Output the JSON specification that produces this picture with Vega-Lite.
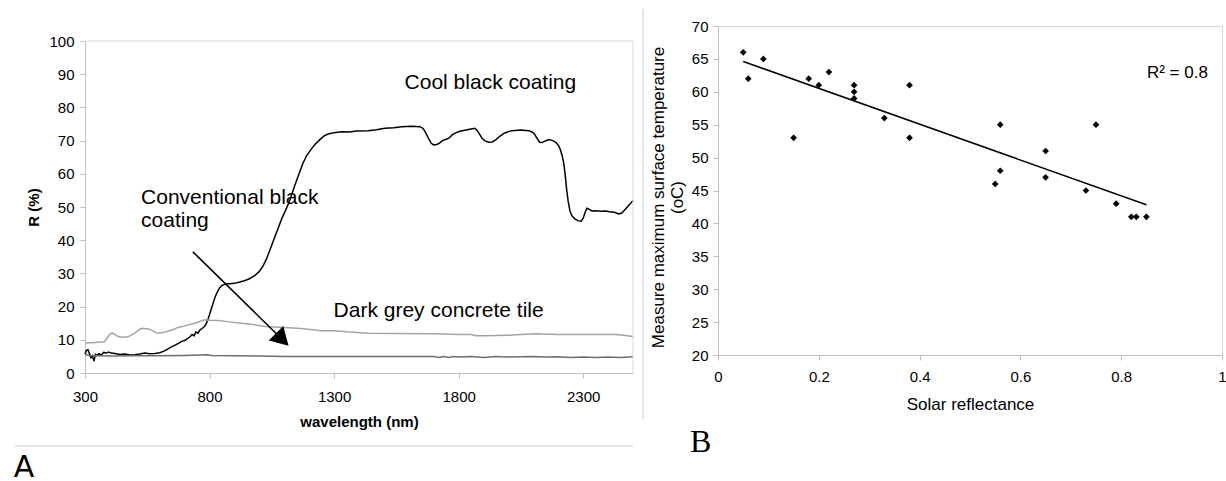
{
  "$schema": "https://vega.github.io/schema/vega-lite/v6.json",
  "padding": {"left": 13, "top": 8, "right": 0, "bottom": 0},
  "autosize": {"type": "pad"},
  "background": "white",
  "spacing": 6,
  "config": {
    "font": "Liberation Sans",
    "view": {"stroke": null},
    "axis": {"grid": false, "domainColor": "#bfbfbf", "tickColor": "#bfbfbf", "labelColor": "#000000", "titleColor": "#000000", "tickSize": 5, "labelFont": "Liberation Sans", "titleFont": "Liberation Sans", "labelFlush": false, "labelOverlap": false}
  },
  "datasets": {
    "spectra": [
      {"s":"cool","nm":300,"R":5.7},{"s":"cool","nm":306,"R":6.8},{"s":"cool","nm":312,"R":7.0},{"s":"cool","nm":318,"R":5.8},{"s":"cool","nm":324,"R":4.6},{"s":"cool","nm":330,"R":5.2},{"s":"cool","nm":336,"R":3.6},{"s":"cool","nm":342,"R":5.6},{"s":"cool","nm":348,"R":5.3},{"s":"cool","nm":356,"R":5.8},{"s":"cool","nm":365,"R":5.4},{"s":"cool","nm":375,"R":6.2},{"s":"cool","nm":385,"R":6.0},{"s":"cool","nm":395,"R":6.3},{"s":"cool","nm":405,"R":6.0},{"s":"cool","nm":420,"R":5.9},{"s":"cool","nm":440,"R":5.6},{"s":"cool","nm":460,"R":5.7},{"s":"cool","nm":480,"R":5.4},{"s":"cool","nm":500,"R":5.5},{"s":"cool","nm":520,"R":5.7},{"s":"cool","nm":540,"R":6.0},{"s":"cool","nm":560,"R":5.8},{"s":"cool","nm":580,"R":5.9},{"s":"cool","nm":600,"R":6.1},{"s":"cool","nm":615,"R":6.5},{"s":"cool","nm":630,"R":7.1},{"s":"cool","nm":645,"R":7.8},{"s":"cool","nm":660,"R":8.3},{"s":"cool","nm":675,"R":8.9},{"s":"cool","nm":690,"R":9.6},{"s":"cool","nm":700,"R":9.8},{"s":"cool","nm":713,"R":10.4},{"s":"cool","nm":722,"R":10.9},{"s":"cool","nm":730,"R":11.6},{"s":"cool","nm":738,"R":11.2},{"s":"cool","nm":745,"R":12.4},{"s":"cool","nm":753,"R":12.0},{"s":"cool","nm":762,"R":13.0},{"s":"cool","nm":770,"R":13.4},{"s":"cool","nm":778,"R":13.9},{"s":"cool","nm":785,"R":14.6},{"s":"cool","nm":793,"R":16.0},{"s":"cool","nm":800,"R":17.6},{"s":"cool","nm":807,"R":19.3},{"s":"cool","nm":815,"R":21.2},{"s":"cool","nm":822,"R":22.8},{"s":"cool","nm":830,"R":24.2},{"s":"cool","nm":840,"R":25.6},{"s":"cool","nm":850,"R":26.4},{"s":"cool","nm":865,"R":26.8},{"s":"cool","nm":880,"R":26.9},{"s":"cool","nm":900,"R":27.0},{"s":"cool","nm":921,"R":27.4},{"s":"cool","nm":940,"R":27.8},{"s":"cool","nm":960,"R":28.4},{"s":"cool","nm":981,"R":29.3},{"s":"cool","nm":1000,"R":30.6},{"s":"cool","nm":1015,"R":32.3},{"s":"cool","nm":1030,"R":34.6},{"s":"cool","nm":1045,"R":37.6},{"s":"cool","nm":1060,"R":40.6},{"s":"cool","nm":1075,"R":43.5},{"s":"cool","nm":1090,"R":46.5},{"s":"cool","nm":1105,"R":49.0},{"s":"cool","nm":1120,"R":51.6},{"s":"cool","nm":1140,"R":56.0},{"s":"cool","nm":1160,"R":60.2},{"s":"cool","nm":1175,"R":63.2},{"s":"cool","nm":1190,"R":65.5},{"s":"cool","nm":1209,"R":67.5},{"s":"cool","nm":1225,"R":69.0},{"s":"cool","nm":1243,"R":70.3},{"s":"cool","nm":1260,"R":71.4},{"s":"cool","nm":1276,"R":72.0},{"s":"cool","nm":1300,"R":72.4},{"s":"cool","nm":1330,"R":72.7},{"s":"cool","nm":1360,"R":72.6},{"s":"cool","nm":1390,"R":72.9},{"s":"cool","nm":1437,"R":73.0},{"s":"cool","nm":1470,"R":73.3},{"s":"cool","nm":1504,"R":73.7},{"s":"cool","nm":1540,"R":73.9},{"s":"cool","nm":1571,"R":74.2},{"s":"cool","nm":1610,"R":74.3},{"s":"cool","nm":1645,"R":74.2},{"s":"cool","nm":1658,"R":73.6},{"s":"cool","nm":1668,"R":72.3},{"s":"cool","nm":1678,"R":70.8},{"s":"cool","nm":1690,"R":69.2},{"s":"cool","nm":1700,"R":68.7},{"s":"cool","nm":1712,"R":68.8},{"s":"cool","nm":1722,"R":69.2},{"s":"cool","nm":1735,"R":70.0},{"s":"cool","nm":1750,"R":70.4},{"s":"cool","nm":1762,"R":70.8},{"s":"cool","nm":1775,"R":71.8},{"s":"cool","nm":1790,"R":72.4},{"s":"cool","nm":1805,"R":72.8},{"s":"cool","nm":1830,"R":73.2},{"s":"cool","nm":1850,"R":73.5},{"s":"cool","nm":1865,"R":73.7},{"s":"cool","nm":1875,"R":73.0},{"s":"cool","nm":1885,"R":71.8},{"s":"cool","nm":1895,"R":70.6},{"s":"cool","nm":1906,"R":69.9},{"s":"cool","nm":1920,"R":69.5},{"s":"cool","nm":1935,"R":69.6},{"s":"cool","nm":1950,"R":70.3},{"s":"cool","nm":1965,"R":71.3},{"s":"cool","nm":1980,"R":72.1},{"s":"cool","nm":1995,"R":72.6},{"s":"cool","nm":2014,"R":73.0},{"s":"cool","nm":2050,"R":73.2},{"s":"cool","nm":2081,"R":73.0},{"s":"cool","nm":2095,"R":72.6},{"s":"cool","nm":2105,"R":71.9},{"s":"cool","nm":2115,"R":70.7},{"s":"cool","nm":2125,"R":69.5},{"s":"cool","nm":2135,"R":69.4},{"s":"cool","nm":2148,"R":69.9},{"s":"cool","nm":2162,"R":70.3},{"s":"cool","nm":2178,"R":70.0},{"s":"cool","nm":2190,"R":69.5},{"s":"cool","nm":2200,"R":68.6},{"s":"cool","nm":2208,"R":67.4},{"s":"cool","nm":2215,"R":65.6},{"s":"cool","nm":2222,"R":63.2},{"s":"cool","nm":2228,"R":59.5},{"s":"cool","nm":2234,"R":55.0},{"s":"cool","nm":2240,"R":51.6},{"s":"cool","nm":2247,"R":48.8},{"s":"cool","nm":2255,"R":47.3},{"s":"cool","nm":2265,"R":46.5},{"s":"cool","nm":2278,"R":45.9},{"s":"cool","nm":2292,"R":45.7},{"s":"cool","nm":2300,"R":46.6},{"s":"cool","nm":2308,"R":48.4},{"s":"cool","nm":2315,"R":49.6},{"s":"cool","nm":2325,"R":49.3},{"s":"cool","nm":2335,"R":48.8},{"s":"cool","nm":2350,"R":48.9},{"s":"cool","nm":2370,"R":48.7},{"s":"cool","nm":2390,"R":48.8},{"s":"cool","nm":2405,"R":48.6},{"s":"cool","nm":2425,"R":48.4},{"s":"cool","nm":2443,"R":47.9},{"s":"cool","nm":2455,"R":48.2},{"s":"cool","nm":2470,"R":49.4},{"s":"cool","nm":2485,"R":50.7},{"s":"cool","nm":2500,"R":51.9},
      {"s":"concrete","nm":300,"R":9.0},{"s":"concrete","nm":340,"R":9.2},{"s":"concrete","nm":378,"R":9.4},{"s":"concrete","nm":390,"R":10.6},{"s":"concrete","nm":400,"R":11.8},{"s":"concrete","nm":410,"R":12.0},{"s":"concrete","nm":420,"R":11.6},{"s":"concrete","nm":432,"R":11.0},{"s":"concrete","nm":450,"R":10.8},{"s":"concrete","nm":472,"R":10.9},{"s":"concrete","nm":500,"R":12.0},{"s":"concrete","nm":520,"R":13.2},{"s":"concrete","nm":532,"R":13.5},{"s":"concrete","nm":559,"R":13.2},{"s":"concrete","nm":580,"R":12.4},{"s":"concrete","nm":592,"R":12.0},{"s":"concrete","nm":619,"R":12.3},{"s":"concrete","nm":650,"R":13.0},{"s":"concrete","nm":673,"R":13.7},{"s":"concrete","nm":700,"R":14.2},{"s":"concrete","nm":740,"R":15.0},{"s":"concrete","nm":780,"R":16.0},{"s":"concrete","nm":800,"R":15.9},{"s":"concrete","nm":834,"R":15.8},{"s":"concrete","nm":880,"R":15.4},{"s":"concrete","nm":928,"R":15.0},{"s":"concrete","nm":975,"R":14.6},{"s":"concrete","nm":1021,"R":14.0},{"s":"concrete","nm":1100,"R":13.7},{"s":"concrete","nm":1169,"R":13.4},{"s":"concrete","nm":1249,"R":12.7},{"s":"concrete","nm":1303,"R":12.7},{"s":"concrete","nm":1350,"R":12.4},{"s":"concrete","nm":1437,"R":12.0},{"s":"concrete","nm":1550,"R":11.9},{"s":"concrete","nm":1705,"R":11.8},{"s":"concrete","nm":1800,"R":11.6},{"s":"concrete","nm":1850,"R":11.6},{"s":"concrete","nm":1870,"R":11.2},{"s":"concrete","nm":1906,"R":11.2},{"s":"concrete","nm":2000,"R":11.4},{"s":"concrete","nm":2108,"R":11.8},{"s":"concrete","nm":2200,"R":11.6},{"s":"concrete","nm":2300,"R":11.6},{"s":"concrete","nm":2430,"R":11.6},{"s":"concrete","nm":2470,"R":11.3},{"s":"concrete","nm":2500,"R":11.0},
      {"s":"conventional","nm":300,"R":5.6},{"s":"conventional","nm":320,"R":5.2},{"s":"conventional","nm":350,"R":5.2},{"s":"conventional","nm":400,"R":5.1},{"s":"conventional","nm":500,"R":5.2},{"s":"conventional","nm":600,"R":5.2},{"s":"conventional","nm":700,"R":5.3},{"s":"conventional","nm":790,"R":5.5},{"s":"conventional","nm":810,"R":5.3},{"s":"conventional","nm":900,"R":5.2},{"s":"conventional","nm":1000,"R":5.1},{"s":"conventional","nm":1100,"R":5.0},{"s":"conventional","nm":1200,"R":5.0},{"s":"conventional","nm":1300,"R":5.0},{"s":"conventional","nm":1400,"R":5.0},{"s":"conventional","nm":1500,"R":5.0},{"s":"conventional","nm":1600,"R":5.0},{"s":"conventional","nm":1700,"R":5.0},{"s":"conventional","nm":1720,"R":4.7},{"s":"conventional","nm":1740,"R":5.0},{"s":"conventional","nm":1760,"R":4.7},{"s":"conventional","nm":1780,"R":5.0},{"s":"conventional","nm":1800,"R":4.8},{"s":"conventional","nm":1850,"R":5.0},{"s":"conventional","nm":1900,"R":4.7},{"s":"conventional","nm":1950,"R":5.0},{"s":"conventional","nm":2000,"R":4.8},{"s":"conventional","nm":2100,"R":5.0},{"s":"conventional","nm":2150,"R":4.8},{"s":"conventional","nm":2200,"R":4.9},{"s":"conventional","nm":2250,"R":4.7},{"s":"conventional","nm":2300,"R":4.8},{"s":"conventional","nm":2350,"R":4.7},{"s":"conventional","nm":2400,"R":4.8},{"s":"conventional","nm":2450,"R":4.7},{"s":"conventional","nm":2500,"R":4.9}
    ],
    "scatter": [
      {"refl":0.05,"temp":66},{"refl":0.06,"temp":62},{"refl":0.09,"temp":65},{"refl":0.15,"temp":53},{"refl":0.18,"temp":62},{"refl":0.2,"temp":61},{"refl":0.22,"temp":63},{"refl":0.27,"temp":61},{"refl":0.27,"temp":60},{"refl":0.27,"temp":59},{"refl":0.33,"temp":56},{"refl":0.38,"temp":61},{"refl":0.38,"temp":53},{"refl":0.55,"temp":46},{"refl":0.56,"temp":55},{"refl":0.56,"temp":48},{"refl":0.65,"temp":51},{"refl":0.65,"temp":47},{"refl":0.73,"temp":45},{"refl":0.75,"temp":55},{"refl":0.79,"temp":43},{"refl":0.82,"temp":41},{"refl":0.83,"temp":41},{"refl":0.85,"temp":41}
    ]
  },
  "hconcat": [
    {
      "width": 548,
      "height": 347,
      "layer": [
        {
          "data": {"name": "spectra"},
          "mark": {"type": "line", "strokeWidth": 1.5, "clip": false},
          "encoding": {
            "x": {"field": "nm", "type": "quantitative", "scale": {"domain": [300, 2500], "nice": false, "zero": false},
                  "axis": {"values": [300, 800, 1300, 1800, 2300], "tickCount": 10, "format": "d", "title": "wavelength (nm)", "titleFontWeight": "bold", "titleFontSize": 15, "labelFontSize": 15, "labelPadding": 11, "titlePadding": 10, "labelOverlap": false, "labelFlush": false}},
            "y": {"field": "R", "type": "quantitative", "scale": {"domain": [0, 100], "range": [347, 15], "nice": false},
                  "axis": {"values": [0, 10, 20, 30, 40, 50, 60, 70, 80, 90, 100], "tickCount": 20, "format": "d", "title": "R (%)", "titleFontWeight": "bold", "titleFontSize": 15, "labelFontSize": 15, "labelPadding": 6, "titlePadding": 7, "labelOverlap": false}},
            "color": {"field": "s", "type": "nominal", "scale": {"domain": ["concrete", "conventional", "cool"], "range": ["#a3a3a3", "#6e6e6e", "#000000"]}, "legend": null}
          }
        },
        {
          "data": {"values": [{}]},
          "mark": {"type": "rule", "color": "#d9d9d9", "strokeWidth": 1, "clip": false},
          "encoding": {"x": {"datum": 300}, "x2": {"datum": 2500}, "y": {"datum": 100}}
        },
        {
          "data": {"values": [{}]},
          "mark": {"type": "rule", "color": "#d9d9d9", "strokeWidth": 1, "clip": false},
          "encoding": {"x": {"datum": 2500}, "y": {"datum": 0}, "y2": {"datum": 100}}
        },
        {
          "data": {"values": [{}]},
          "mark": {"type": "rule", "color": "#cccccc", "strokeWidth": 1, "clip": false},
          "encoding": {"x": {"datum": 18.4}, "x2": {"datum": 2500}, "y": {"datum": -22}}
        },
        {
          "data": {"values": [{}]},
          "mark": {"type": "rule", "color": "#000000", "strokeWidth": 1.6, "clip": false},
          "encoding": {"x": {"datum": 733}, "y": {"datum": 36.5}, "x2": {"datum": 1092}, "y2": {"datum": 10.1}}
        },
        {
          "data": {"values": [{}]},
          "mark": {"type": "point", "shape": "triangle-up", "filled": true, "color": "#000000", "opacity": 1, "size": 420, "angle": 135, "strokeWidth": 0, "clip": false},
          "encoding": {"x": {"datum": 1092}, "y": {"datum": 10.1}}
        },
        {
          "data": {"values": [{}]},
          "mark": {"type": "text", "align": "left", "baseline": "alphabetic", "fontSize": 21, "font": "Liberation Sans", "color": "#000000"},
          "encoding": {"x": {"datum": 1583}, "y": {"datum": 85.5}, "text": {"value": "Cool black coating"}}
        },
        {
          "data": {"values": [{}]},
          "mark": {"type": "text", "align": "left", "baseline": "alphabetic", "fontSize": 21, "font": "Liberation Sans", "color": "#000000"},
          "encoding": {"x": {"datum": 1298}, "y": {"datum": 16.9}, "text": {"value": "Dark grey concrete tile"}}
        },
        {
          "data": {"values": [{}]},
          "mark": {"type": "text", "align": "left", "baseline": "alphabetic", "fontSize": 21, "lineHeight": 23, "font": "Liberation Sans", "color": "#000000"},
          "encoding": {"x": {"datum": 525}, "y": {"datum": 50.9}, "text": {"value": ["Conventional black", "coating"]}}
        },
        {
          "data": {"values": [{}]},
          "mark": {"type": "text", "align": "left", "baseline": "alphabetic", "fontSize": 30, "font": "DejaVu Sans", "color": "#000000", "clip": false},
          "encoding": {"x": {"datum": 14.4}, "y": {"datum": -31.3}, "text": {"value": "A"}}
        }
      ]
    },
    {
      "width": 504,
      "height": 329,
      "view": {"stroke": "#d9d9d9"},
      "layer": [
        {
          "data": {"name": "scatter"},
          "mark": {"type": "point", "shape": "diamond", "filled": true, "color": "#000000", "opacity": 1, "size": 45},
          "encoding": {
            "x": {"field": "refl", "type": "quantitative", "scale": {"domain": [0, 1], "nice": false, "zero": false},
                  "axis": {"values": [0, 0.2, 0.4, 0.6, 0.8, 1], "tickCount": 10, "format": "~g", "title": "Solar reflectance", "titleFontWeight": "normal", "titleFontSize": 17, "labelFontSize": 15, "labelPadding": 9, "titlePadding": 12, "labelOverlap": false, "labelFlush": false}},
            "y": {"field": "temp", "type": "quantitative", "scale": {"domain": [20, 70], "nice": false, "zero": false},
                  "axis": {"values": [20, 25, 30, 35, 40, 45, 50, 55, 60, 65, 70], "tickCount": 20, "format": "d", "title": ["Measure maximum surface temperature", "(oC)"], "titleFontWeight": "normal", "titleFontSize": 17, "titleLineHeight": 19, "titleY": 171, "labelFontSize": 15, "labelPadding": 5, "titlePadding": 5, "labelOverlap": false}}
          }
        },
        {
          "data": {"name": "scatter"},
          "transform": [{"regression": "temp", "on": "refl", "method": "linear"}],
          "mark": {"type": "line", "color": "#000000", "strokeWidth": 1.5},
          "encoding": {"x": {"field": "refl", "type": "quantitative"}, "y": {"field": "temp", "type": "quantitative"}}
        },
        {
          "data": {"values": [{}]},
          "mark": {"type": "text", "align": "left", "baseline": "alphabetic", "fontSize": 17, "font": "Liberation Sans", "color": "#000000"},
          "encoding": {"x": {"datum": 0.851}, "y": {"datum": 62.1}, "text": {"value": "R² = 0.8"}}
        },
        {
          "data": {"values": [{}]},
          "mark": {"type": "rule", "color": "#cccccc", "strokeWidth": 1, "clip": false},
          "encoding": {"x": {"datum": -0.1488}, "y": {"datum": 72.58}, "y2": {"datum": 10.27}}
        },
        {
          "data": {"values": [{}]},
          "mark": {"type": "text", "align": "left", "baseline": "alphabetic", "fontSize": 32, "font": "Liberation Serif", "color": "#000000", "clip": false},
          "encoding": {"x": {"datum": -0.0556}, "y": {"datum": 5.26}, "text": {"value": "B"}}
        }
      ]
    }
  ]
}
